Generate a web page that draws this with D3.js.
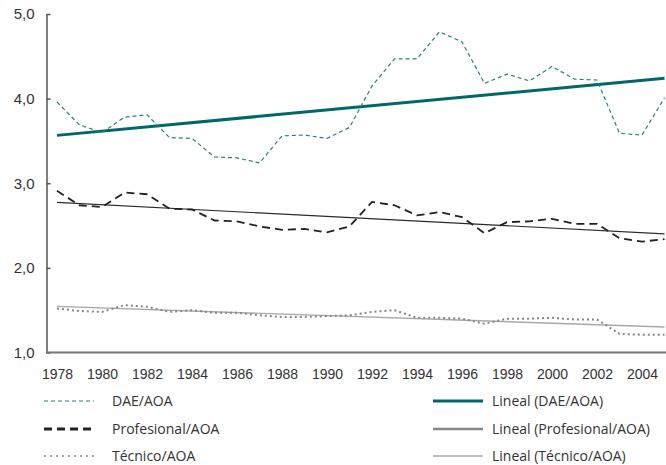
<!DOCTYPE html>
<html>
<head>
<meta charset="utf-8">
<script src="https://cdn.jsdelivr.net/npm/d3@7"></script>
<style>
  body { margin: 0; background: #fff; }
  svg { display: block; font-family: "Open Sans", sans-serif; }
</style>
</head>
<body>
<svg width="666" height="465"></svg>
<script>
const years = d3.range(1978, 2006)
const xTicks = [1978, 1980, 1982, 1984, 1986, 1988, 1990, 1992, 1994, 1996, 1998, 2000, 2002, 2004]
const yTicks = [1, 2, 3, 4, 5]

const dae = [3.96, 3.69, 3.60, 3.78, 3.81, 3.54, 3.53, 3.31, 3.30, 3.24, 3.56, 3.57, 3.53, 3.66,
             4.15, 4.47, 4.47, 4.79, 4.67, 4.18, 4.29, 4.21, 4.38, 4.23, 4.22, 3.59, 3.57, 4.01]
const profesional = [2.91, 2.74, 2.72, 2.89, 2.87, 2.70, 2.69, 2.56, 2.55, 2.49, 2.45, 2.46, 2.42, 2.49,
                     2.78, 2.74, 2.62, 2.66, 2.60, 2.41, 2.54, 2.55, 2.58, 2.52, 2.52, 2.35, 2.31, 2.34]
const tecnico = [1.52, 1.49, 1.48, 1.56, 1.54, 1.48, 1.50, 1.47, 1.47, 1.44, 1.42, 1.42, 1.43, 1.44,
                 1.48, 1.50, 1.41, 1.41, 1.40, 1.34, 1.40, 1.40, 1.41, 1.39, 1.39, 1.22, 1.21, 1.21]

const svg = d3.select('svg')

const x = d3.scaleLinear().domain([1978, 2005]).range([57, 664.5])
const y = d3.scaleLinear().domain([1, 5]).range([352.5, 14])

// least squares fit, as the "Lineal" trend lines
const fit = vals => {
    const mx = d3.mean(years), my = d3.mean(vals)
    const b = d3.sum(years, (yr, i) => (yr - mx) * (vals[i] - my)) / d3.sum(years, yr => (yr - mx) ** 2)
    const a = my - b * mx
    return [1978, 2005].map(yr => [yr, a + b * yr])
}

const series = [
    {name: 'DAE/AOA', vals: dae, color: '#2b8080', width: 1.2, dash: '4,3', legDash: '4,3', legWidth: 1.2},
    {name: 'Profesional/AOA', vals: profesional, color: '#222', width: 1.8, dash: '8,5', legDash: '8,5', legWidth: 2.8},
    {name: 'Técnico/AOA', vals: tecnico, color: '#888', width: 2, dash: '2,3', legDash: '2,4', legWidth: 1.5}
]
const trends = [
    {name: 'Lineal (DAE/AOA)', vals: dae, color: '#006868', width: 3, legColor: '#006868', legWidth: 3},
    {name: 'Lineal (Profesional/AOA)', vals: profesional, color: '#2a2a2a', width: 1.1, legColor: '#888', legWidth: 2.5},
    {name: 'Lineal (Técnico/AOA)', vals: tecnico, color: '#a8a8a8', width: 1.4, legColor: '#aaa', legWidth: 1.4}
]

const line = d3.line().x(d => x(d[0])).y(d => y(d[1]))

// axes
const yAxis = svg.append('g')
    .attr('transform', 'translate(46.5,0)')
    .call(d3.axisLeft(y).tickValues(yTicks).tickSizeInner(-4).tickSizeOuter(0).tickPadding(12)
        .tickFormat(d => d3.format('.1f')(d).replace('.', ',')))
yAxis.select('.domain').attr('stroke', '#555').attr('stroke-width', 1.5)
yAxis.selectAll('.tick line').attr('stroke', '#555').attr('stroke-width', 1.5)
yAxis.selectAll('text').attr('font-size', 15).attr('fill', '#333')

const xAxis = svg.append('g')
    .attr('transform', 'translate(0,352.5)')
    .call(d3.axisBottom(x).tickValues(xTicks).tickSize(0).tickPadding(17).tickFormat(d3.format('d')))
xAxis.select('.domain').attr('d', 'M46,0H666').attr('stroke', '#777').attr('stroke-width', 2)
xAxis.selectAll('text').attr('font-size', 14).attr('fill', '#333')

// trend lines
svg.selectAll('.trend').data(trends).enter().append('path')
    .attr('class', 'trend')
    .attr('fill', 'none')
    .attr('stroke', d => d.color)
    .attr('stroke-width', d => d.width)
    .attr('d', d => line(fit(d.vals)))

// data series
svg.selectAll('.series').data(series).enter().append('path')
    .attr('class', 'series')
    .attr('fill', 'none')
    .attr('stroke', d => d.color)
    .attr('stroke-width', d => d.width)
    .attr('stroke-dasharray', d => d.dash)
    .attr('d', d => line(years.map((yr, i) => [yr, d.vals[i]])))

// legend
const rowY = [401, 429, 456]
const legL = svg.append('g')
series.forEach((s, i) => {
    legL.append('line').attr('x1', 44).attr('x2', 94).attr('y1', rowY[i]).attr('y2', rowY[i])
        .attr('stroke', s.color).attr('stroke-width', s.legWidth).attr('stroke-dasharray', s.legDash)
    legL.append('text').attr('x', 112).attr('y', rowY[i]).attr('dy', '0.35em')
        .attr('font-size', 14).attr('fill', '#333').text(s.name)
})
const legR = svg.append('g')
trends.forEach((t, i) => {
    legR.append('line').attr('x1', 433).attr('x2', 483).attr('y1', rowY[i]).attr('y2', rowY[i])
        .attr('stroke', t.legColor).attr('stroke-width', t.legWidth)
    legR.append('text').attr('x', 492).attr('y', rowY[i]).attr('dy', '0.35em')
        .attr('font-size', 14).attr('fill', '#333').text(t.name)
})
</script>
</body>
</html>
